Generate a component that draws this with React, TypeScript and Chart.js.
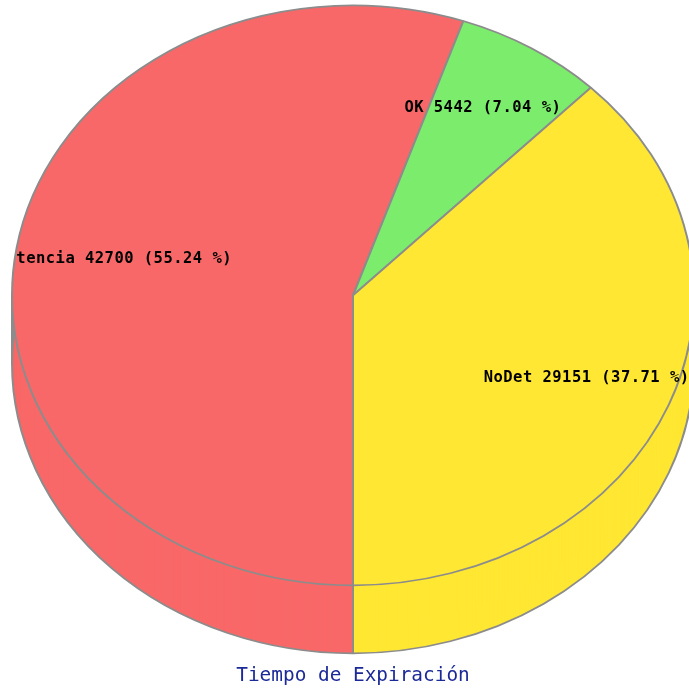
import { useEffect, useRef } from "react";
import { Chart, registerables } from "chart.js";

Chart.register(...registerables);

const categories = ["Latencia", "OK", "NoDet"];
const counts = [42700, 5442, 29151];
const percents = ["55.24", "7.04", "37.71"];
const sliceColors = ["#F96868", "#7CEC6C", "#FFE733"];
const chartTitle = "Tiempo de Expiración";

const EDGE = "#8c8c8c";
const EDGE_WIDTH = 2;
const SQUASH = 290 / 341;
const DEPTH = 68;
const LABEL_RX = 250;
const LABEL_RY = 220;
const LABEL_NUDGE_X = [8, -1, 2];
const LEFT_CLIP = 15;

function plainArcOptions(o: any, fill: string, width: number) {
  return {
    backgroundColor: fill,
    borderColor: o.borderColor,
    borderWidth: width,
    borderRadius: 0,
    spacing: 0,
    offset: 0,
    circular: true,
    borderAlign: "center",
    borderDash: [],
    borderDashOffset: 0,
    borderJoinStyle: "bevel",
  };
}

function withSquash(ctx: CanvasRenderingContext2D, cx: number, cy: number, dy: number, draw: () => void) {
  ctx.save();
  ctx.translate(cx, cy + dy);
  ctx.scale(1, SQUASH);
  ctx.translate(-cx, -cy);
  draw();
  ctx.restore();
}

// Flattens the pie into an ellipse, extrudes a side wall below it and writes the slice labels.
const tiltedPie = {
  id: "tiltedPie",
  beforeDatasetsDraw(chart: any) {
    const { ctx } = chart;
    const arcs = chart.getDatasetMeta(0).data;
    const { x: cx, y: cy, outerRadius } = arcs[0];
    const stamp = (dy: number, fill: (o: any) => string, width: number) => {
      withSquash(ctx, cx, cy, dy, () => {
        arcs.forEach((arc: any) => {
          const saved = arc.options;
          arc.options = plainArcOptions(saved, fill(saved), width);
          arc.draw(ctx);
          arc.options = saved;
        });
      });
    };
    for (let dy = DEPTH; dy >= 1; dy--) stamp(dy, (o) => o.backgroundColor, 0);
    stamp(DEPTH, () => "rgba(0,0,0,0)", EDGE_WIDTH);

    // Silhouette of the wall on its left side
    ctx.save();
    ctx.strokeStyle = EDGE;
    ctx.lineWidth = EDGE_WIDTH;
    ctx.beginPath();
    ctx.moveTo(cx - outerRadius, cy);
    ctx.lineTo(cx - outerRadius, cy + DEPTH);
    ctx.stroke();
    ctx.restore();
  },
  beforeDatasetDraw(chart: any) {
    const { ctx } = chart;
    const { x: cx, y: cy } = chart.getDatasetMeta(0).data[0];
    ctx.save();
    ctx.translate(cx, cy);
    ctx.scale(1, SQUASH);
    ctx.translate(-cx, -cy);
  },
  afterDatasetDraw(chart: any) {
    chart.ctx.restore();
  },
  afterDatasetsDraw(chart: any) {
    const { ctx } = chart;
    const arcs = chart.getDatasetMeta(0).data;
    ctx.save();
    ctx.beginPath();
    ctx.rect(LEFT_CLIP, 0, chart.width, chart.height);
    ctx.clip();
    ctx.font = 'bold 15.5px "DejaVu Sans Mono"';
    (ctx as any).letterSpacing = "0.47px";
    ctx.fillStyle = "#000";
    ctx.textAlign = "center";
    ctx.textBaseline = "middle";
    arcs.forEach((arc: any, i: number) => {
      const mid = (arc.startAngle + arc.endAngle) / 2;
      const x = arc.x + Math.cos(mid) * LABEL_RX + LABEL_NUDGE_X[i];
      const y = arc.y + Math.sin(mid) * LABEL_RY;
      ctx.fillText(`${categories[i]} ${counts[i]} (${percents[i]} %)`, x, y);
    });
    ctx.restore();
  },
};

export default function App() {
  const canvasRef = useRef<HTMLCanvasElement>(null);

  useEffect(() => {
    const chart = new Chart(canvasRef.current!, {
      type: "pie",
      data: {
        labels: categories,
        datasets: [
          {
            data: counts,
            backgroundColor: sliceColors,
            borderColor: EDGE,
            borderWidth: EDGE_WIDTH,
            borderAlign: "center",
            radius: 341,
            clip: false,
          } as any,
        ],
      },
      plugins: [tiltedPie],
      options: {
        responsive: false,
        animation: false,
        rotation: 180,
        layout: { padding: { left: 17, bottom: 6 } },
        plugins: {
          legend: { display: false },
          tooltip: { enabled: false },
          title: {
            display: true,
            text: chartTitle,
            position: "bottom",
            color: "#1c2a98",
            font: { family: '"DejaVu Sans Mono"', size: 19.4, weight: "normal" },
            padding: { top: 74, bottom: 0 },
          },
        },
      },
    });
    return () => chart.destroy();
  }, []);

  return (
    <canvas
      ref={canvasRef}
      width={689}
      height={694}
      style={{ position: "fixed", left: 0, top: 0, width: 689, height: 694 }}
    />
  );
}
